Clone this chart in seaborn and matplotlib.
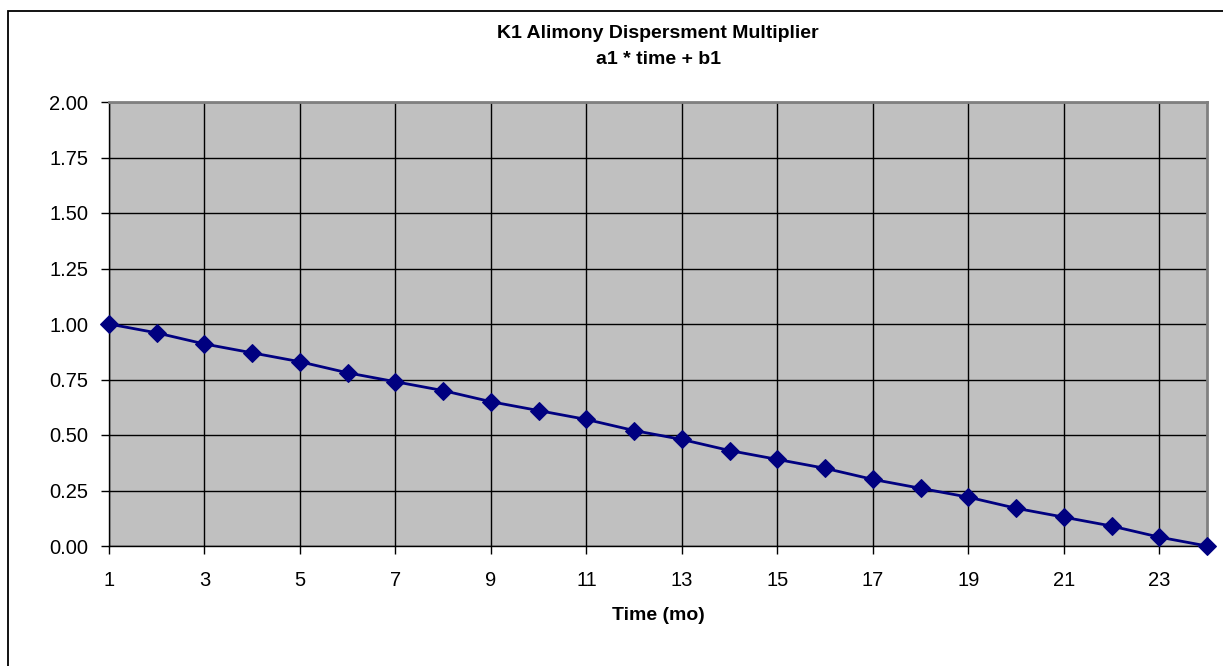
import numpy as np
import pandas as pd
import matplotlib
matplotlib.use("Agg")
import matplotlib.pyplot as plt
import seaborn as sns
from matplotlib.patches import Rectangle

# data
months = list(range(1, 25))
multiplier = [1.00, 0.96, 0.91, 0.87, 0.83, 0.78, 0.74, 0.70, 0.65, 0.61, 0.57, 0.52,
              0.48, 0.43, 0.39, 0.35, 0.30, 0.26, 0.22, 0.17, 0.13, 0.09, 0.04, 0.00]
x_ticks = list(range(1, 24, 2))
y_ticks = [0.00, 0.25, 0.50, 0.75, 1.00, 1.25, 1.50, 1.75, 2.00]

df = pd.DataFrame({"Time (mo)": months, "K1": multiplier})

sns.set_style("white")
plt.rcParams['font.family'] = ['Liberation Sans', 'DejaVu Sans']
plt.rcParams['text.color'] = 'black'
plt.rcParams['axes.labelcolor'] = 'black'
plt.rcParams['xtick.color'] = 'black'
plt.rcParams['ytick.color'] = 'black'

fig = plt.figure(figsize=(12.23, 6.66), dpi=100)
ax = fig.add_axes([109/1223, 1 - 546/666, (1207 - 109)/1223, (546 - 102)/666])
ax.set_facecolor("#c0c0c0")

sns.lineplot(data=df, x="Time (mo)", y="K1", ax=ax, color="#000080", linewidth=2,
             marker="D", markersize=9, markeredgecolor="#000080", clip_on=False, zorder=5)

ax.set_xlim(1, 24)
ax.set_ylim(0, 2)
ax.set_xticks(x_ticks)
ax.set_yticks(y_ticks)
ax.set_yticklabels([f"{v:.2f}" for v in y_ticks])
ax.grid(True, color="black", linewidth=1)
ax.set_axisbelow(True)

ax.tick_params(axis="x", direction="out", length=6, width=1, labelsize=14.5, pad=12, bottom=True)
ax.tick_params(axis="y", direction="out", length=6, width=1, labelsize=14.5, pad=9, left=True)
ax.set_xlabel("Time (mo)", fontsize=14, fontweight="bold", labelpad=12)
ax.set_ylabel("")

for side in ["top", "right"]:
    ax.spines[side].set_color("#808080")
    ax.spines[side].set_linewidth(2)
for side in ["left", "bottom"]:
    ax.spines[side].set_color("black")
    ax.spines[side].set_linewidth(1)

fig.text(658/1223, 1 - 33/666, "K1 Alimony Dispersment Multiplier",
         ha="center", va="center", fontsize=14, fontweight="bold")
fig.text(658/1223, 1 - 59/666, "a1 * time + b1",
         ha="center", va="center", fontsize=14, fontweight="bold")

# chart area border (left and top edges visible)
fig.patches.append(Rectangle((8/1223, -0.5), 2, 1.5 - 10.5/666, transform=fig.transFigure,
                             fill=False, edgecolor="black", linewidth=1.3))

fig.savefig("out.png", dpi=100)
